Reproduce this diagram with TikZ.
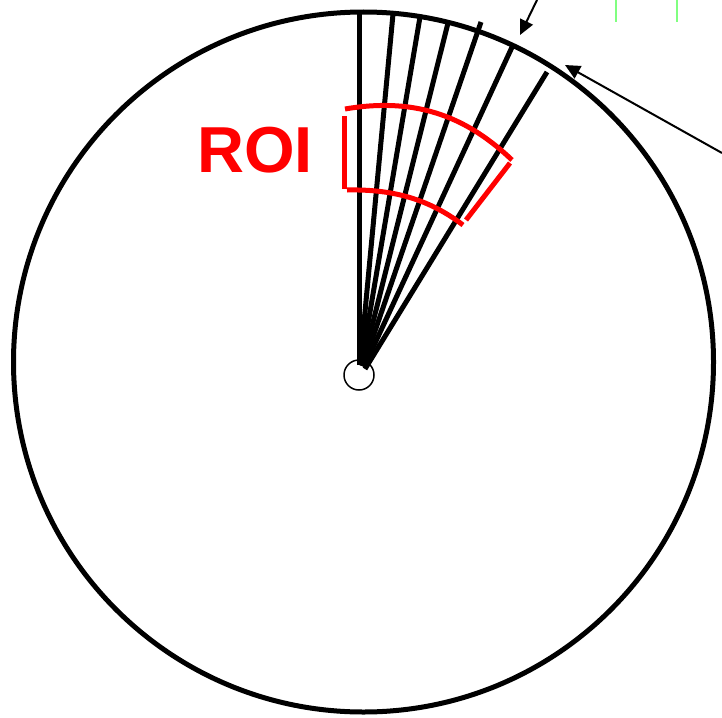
\documentclass[tikz,border=0pt]{standalone}
\usepackage{fontspec}
\usepackage{xcolor}
\usepackage{tikz}
\usetikzlibrary{arrows.meta}
\setmainfont{Liberation Sans}
\definecolor{lgreen}{RGB}{128,255,128}

\begin{document}
\begin{tikzpicture}[x=1pt, y=-1pt,
  rim/.style={draw, line width=5pt},
  ray/.style={draw, line width=5pt},
  roi/.style={draw=red, line width=5pt},
  ptr/.style={draw, line width=2pt, -{Triangle[length=15pt, width=14pt]}},
  tick/.style={draw=lgreen, line width=1.5pt},
]
\useasboundingbox (0,0) rectangle (722,717);
\draw[rim] (363.5,362) circle [radius=350pt];
\draw[line width=1.5pt] (359,375) circle [radius=15pt];
\foreach \xa/\ya/\xb/\yb in {359/365/359/12, 360/365/393/14, 361/365/420/17,
                             362/366/448/23, 363/366/481/22, 364/367/513/45,
                             365/369/547/72}
  \draw[ray] (\xa,\ya) -- (\xb,\yb);
\draw[roi] (345,109) .. controls (420,96) and (470,120) .. (512,160);
\draw[roi] (344,116) -- (344,189);
\draw[roi] (347,190) .. controls (395,189) and (430,200) .. (463,225);
\draw[roi] (510,163) -- (466,220);
\node[text=red, font=\fontsize{65}{65}\selectfont\bfseries] (roilabel) at (255,150) {ROI};
\coordinate (a1) at (537,0);
\coordinate (a1tip) at (520,35);
\coordinate (a2) at (722,153);
\coordinate (a2tip) at (565,65);
\draw[ptr] (a1) -- (a1tip);
\draw[ptr] (a2) -- (a2tip);
\draw[tick] (616,0) -- (616,22);
\draw[tick] (677,0) -- (677,22);
\end{tikzpicture}
\end{document}
